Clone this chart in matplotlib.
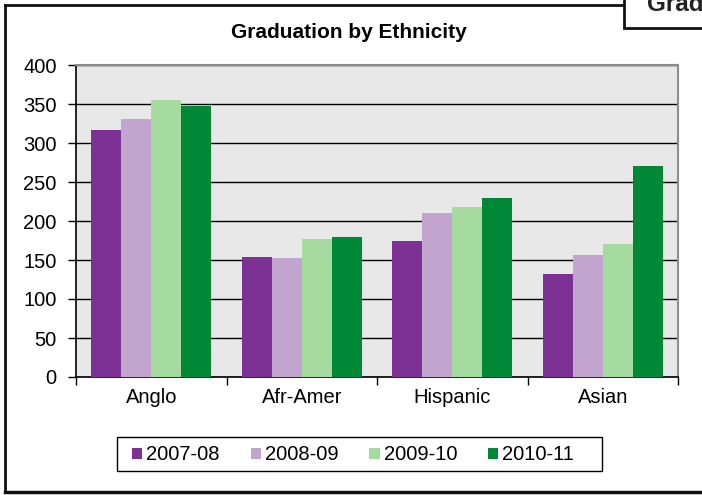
import numpy as np
import matplotlib
matplotlib.use("Agg")
import matplotlib.pyplot as plt
from matplotlib.patches import Rectangle
from matplotlib.lines import Line2D

plt.rcParams['font.family'] = ['Liberation Sans', 'DejaVu Sans']

categories = ["Anglo", "Afr-Amer", "Hispanic", "Asian"]
years = ["2007-08", "2008-09", "2009-10", "2010-11"]
values = {
    "2007-08": [317, 154, 174, 132],
    "2008-09": [331, 152, 210, 157],
    "2009-10": [355, 177, 218, 170],
    "2010-11": [348, 180, 229, 271],
}
colors = ["#7B3294", "#C2A5CF", "#A6DBA0", "#008837"]

W, H = 702, 495
fig = plt.figure(figsize=(W / 100, H / 100), dpi=100)


def px(xp, yp):
    # pixel position (from top-left) -> figure fraction
    return xp / W, 1 - yp / H


# plot area in pixel coordinates
left, right, top, bottom = 76, 678, 65, 377
ax = fig.add_axes([left / W, 1 - bottom / H, (right - left) / W, (bottom - top) / H])
ax.set_facecolor("#E8E8E8")

x = np.arange(len(categories))
bw = 0.2
for i, yr in enumerate(years):
    ax.bar(x - 0.3 + i * bw, values[yr], width=bw, color=colors[i],
           label=yr, zorder=3, linewidth=0)

ax.set_xlim(-0.5, len(categories) - 0.5)
ax.set_ylim(0, 400)
ax.set_yticks(np.arange(0, 401, 50))
ax.yaxis.grid(True, color="black", linewidth=1.0, zorder=1)
ax.set_axisbelow(True)

ax.set_xticks(x)
ax.set_xticklabels(categories, fontsize=14.5)
ax.tick_params(axis="x", length=0, pad=8)
ax.set_xticks(np.arange(-0.5, len(categories), 1), minor=True)
ax.tick_params(axis="x", which="minor", length=6, width=1, direction="out", color="black")
ax.tick_params(axis="y", length=5.8, width=1, direction="out", labelsize=14.5, pad=8)

for s in ["left", "bottom"]:
    ax.spines[s].set_color("black")
    ax.spines[s].set_linewidth(1.2)
for s in ["top", "right"]:
    ax.spines[s].set_color("#8C8C8C")
    ax.spines[s].set_linewidth(1.5)

fig.text(*px(349, 32), "Graduation by Ethnicity", ha="center", va="center",
         fontsize=15, fontweight="bold")

# legend (frame drawn separately)
handles, labels = ax.get_legend_handles_labels()
leg = fig.legend(handles, labels, loc="center", bbox_to_anchor=px(353, 455), ncol=4,
                 fontsize=14.5, frameon=False, handlelength=0.5,
                 handleheight=0.5, handletextpad=0.2, columnspacing=1.55,
                 borderpad=0, borderaxespad=0)
lx0, ly0 = px(117, 471)
fig.add_artist(Rectangle((lx0, ly0), (602 - 117) / W, (471 - 437) / H, facecolor="none",
                         edgecolor="black", linewidth=1.0, transform=fig.transFigure))

# outer frame
fig.add_artist(Line2D([5 / W, 5 / W], [1 - 5 / H, 1 - 492 / H], color="#111111", linewidth=2))
fig.add_artist(Line2D([5 / W, 1.0], [1 - 492 / H, 1 - 492 / H], color="#111111", linewidth=2.5))
fig.add_artist(Line2D([5 / W, 623 / W], [1 - 5 / H, 1 - 5 / H], color="#111111", linewidth=2))

# clipped title box at top right
bx, by = px(624, 28)
fig.add_artist(Rectangle((bx, by), (W + 20 - 624) / W, 40 / H, facecolor="white",
                         edgecolor="#111111", linewidth=2, transform=fig.transFigure))
fig.text(*px(647, 11), "Graduation by Ethnicity", ha="left", va="baseline",
         fontsize=17.5, fontweight="bold", color="#222222")

fig.savefig("out.png", dpi=100)
